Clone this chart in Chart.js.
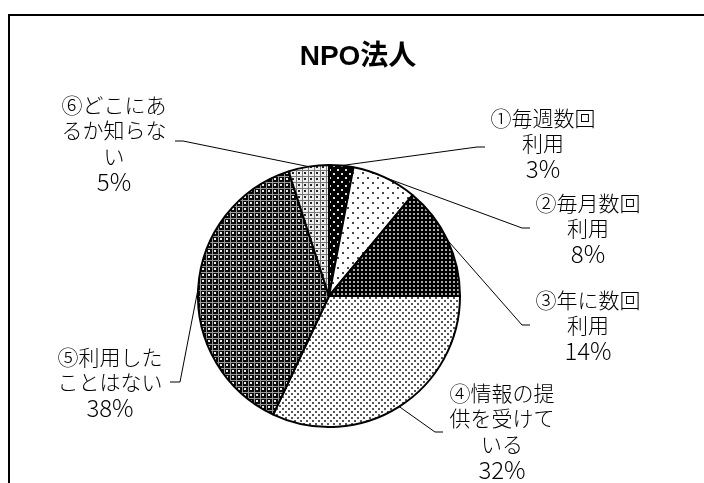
<!DOCTYPE html>
<html>
<head>
<meta charset="utf-8">
<script src="https://cdn.jsdelivr.net/npm/chart.js@4"></script>
<style>
  body { margin: 0; background: #fff; }
  canvas { display: block; }
</style>
</head>
<body>
<canvas id="myChart" width="704" height="483"></canvas>
<script>
const chartTitle = 'NPO法人';
const categories = [
    ['①毎週数回', '利用'],
    ['②毎月数回', '利用'],
    ['③年に数回', '利用'],
    ['④情報の提', '供を受けて', 'いる'],
    ['⑤利用した', 'ことはない'],
    ['⑥どこにあ', 'るか知らな', 'い']
];
const values = [3, 8, 14, 32, 38, 5];

// where each label block sits and where its leader line bends
const labelSpots = [
    { x: 543, y: 118, elbow: [477, 147], end: [485, 147] },
    { x: 588, y: 203, elbow: [522, 228], end: [530, 228] },
    { x: 588, y: 300, elbow: [522, 325], end: [530, 325] },
    { x: 502, y: 393, elbow: [435, 432], end: [443, 432] },
    { x: 110, y: 357, elbow: [180, 382], end: [170, 382] },
    { x: 114, y: 105, elbow: [183, 141], end: [175, 141] }
];

function makePattern(size, draw) {
    const c = document.createElement('canvas');
    c.width = size;
    c.height = size;
    const g = c.getContext('2d');
    draw(g);
    return g.createPattern(c, 'repeat');
}

const fills = [
    // black with sparse white dots
    makePattern(8, g => {
        g.fillStyle = '#000'; g.fillRect(0, 0, 8, 8);
        g.fillStyle = '#ddd'; g.fillRect(1, 1, 2, 2); g.fillRect(5, 5, 2, 2);
    }),
    // white with sparse dark dots
    makePattern(10, g => {
        g.fillStyle = '#fff'; g.fillRect(0, 0, 10, 10);
        g.fillStyle = '#444'; g.fillRect(2, 2, 2, 2); g.fillRect(7, 7, 2, 2);
    }),
    // black with dense light dots
    makePattern(4, g => {
        g.fillStyle = '#000'; g.fillRect(0, 0, 4, 4);
        g.fillStyle = '#aaa'; g.fillRect(1, 1, 2, 2);
    }),
    // white with dense small dots
    makePattern(6, g => {
        g.fillStyle = '#fff'; g.fillRect(0, 0, 6, 6);
        g.fillStyle = '#555'; g.fillRect(0, 0, 2, 2); g.fillRect(3, 3, 2, 2);
    }),
    // dark check
    makePattern(6, g => {
        g.fillStyle = '#0a0a0a'; g.fillRect(0, 0, 6, 6);
        g.fillStyle = '#999'; g.fillRect(0, 2, 6, 1); g.fillRect(2, 0, 1, 6);
        g.fillStyle = '#eee'; g.fillRect(4, 4, 2, 2);
    }),
    // light check
    makePattern(6, g => {
        g.fillStyle = '#eee'; g.fillRect(0, 0, 6, 6);
        g.fillStyle = '#777'; g.fillRect(0, 2, 6, 1); g.fillRect(2, 0, 1, 6);
        g.fillStyle = '#222'; g.fillRect(4, 4, 2, 2);
    })
];

const labelFont = '300 21px "Noto Sans CJK JP"';
const percentFont = '300 24px "Noto Sans CJK JP"';
const lineGap = 25.5;

const decorations = {
    id: 'decorations',
    beforeDraw(chart) {
        const ctx = chart.ctx;
        ctx.save();
        ctx.fillStyle = '#fff';
        ctx.fillRect(0, 0, chart.width, chart.height);
        ctx.strokeStyle = '#000';
        ctx.lineWidth = 2;
        ctx.beginPath();
        ctx.moveTo(9, chart.height);
        ctx.lineTo(9, 15);
        ctx.lineTo(chart.width, 15);
        ctx.stroke();

        ctx.fillStyle = '#000';
        ctx.font = 'bold 28px "Liberation Sans", "Noto Sans CJK JP"';
        ctx.textAlign = 'center';
        ctx.textBaseline = 'middle';
        ctx.fillText(chartTitle, 358, 57);
        ctx.restore();
    },
    afterDraw(chart) {
        const ctx = chart.ctx;
        const arcs = chart.getDatasetMeta(0).data;
        ctx.save();
        arcs.forEach((arc, i) => {
            const p = arc.getProps(['x', 'y', 'startAngle', 'endAngle', 'outerRadius'], true);
            const mid = (p.startAngle + p.endAngle) / 2;
            const sx = p.x + Math.cos(mid) * p.outerRadius;
            const sy = p.y + Math.sin(mid) * p.outerRadius;
            const spot = labelSpots[i];

            ctx.strokeStyle = '#000';
            ctx.lineWidth = 1;
            ctx.beginPath();
            ctx.moveTo(sx, sy);
            ctx.lineTo(spot.elbow[0], spot.elbow[1]);
            ctx.lineTo(spot.end[0], spot.end[1]);
            ctx.stroke();

            const lines = categories[i];
            ctx.fillStyle = '#000';
            ctx.textAlign = 'center';
            ctx.textBaseline = 'middle';
            ctx.font = labelFont;
            lines.forEach((t, k) => ctx.fillText(t, spot.x, spot.y + k * lineGap));
            ctx.font = percentFont;
            ctx.fillText(values[i] + '%', spot.x, spot.y + lines.length * lineGap);
        });
        ctx.restore();
    }
};

new Chart(document.getElementById('myChart').getContext('2d'), {
    type: 'pie',
    data: {
        labels: categories.map(c => c.join('')),
        datasets: [{
            data: values,
            backgroundColor: fills,
            borderColor: '#000',
            borderWidth: 2
        }]
    },
    options: {
        responsive: false,
        animation: false,
        layout: { padding: { left: 197, right: 243, top: 164, bottom: 55 } },
        plugins: {
            legend: { display: false },
            tooltip: { enabled: false },
            title: { display: false }
        }
    },
    plugins: [decorations]
});
</script>
</body>
</html>
